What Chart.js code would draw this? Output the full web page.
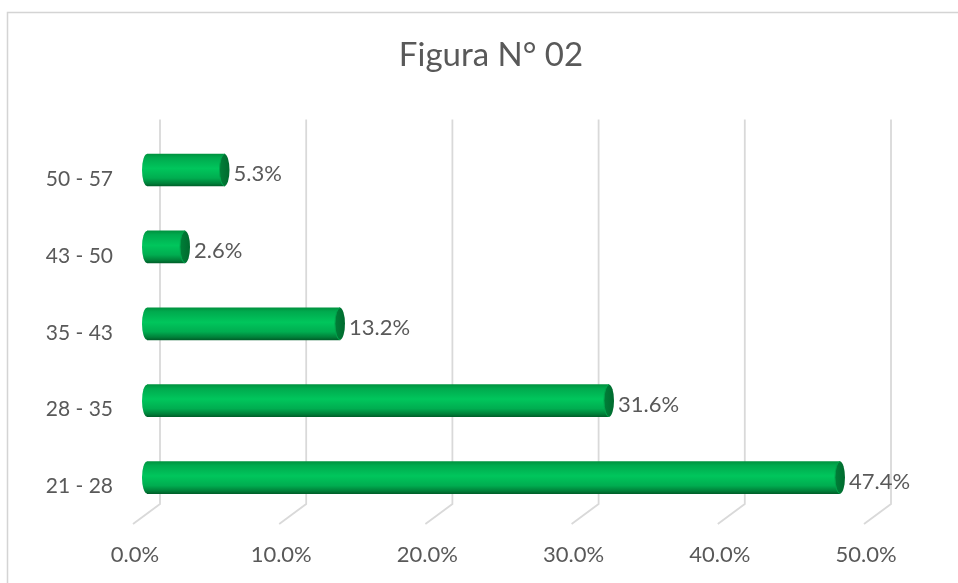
<!DOCTYPE html>
<html>
<head>
<meta charset="utf-8">
<script src="https://cdn.jsdelivr.net/npm/chart.js@4.4.1/dist/chart.umd.min.js"></script>
<style>
html,body{margin:0;padding:0;background:#ffffff;}
#wrap{position:absolute;left:0;top:0;width:958px;height:583px;}
</style>
</head>
<body>
<div id="wrap"><canvas id="c" width="958" height="583"></canvas></div>
<script>
const categories = ['50 - 57', '43 - 50', '35 - 43', '28 - 35', '21 - 28'];
const percentValues = [5.3, 2.6, 13.2, 31.6, 47.4];
const xTickMax = 50;
const xTickStep = 10;
const chartTitle = 'Figura N° 02';

const FONT = 'Lato, "Open Sans", sans-serif';
const BAR_H = 32;
const CAP_RX = 5;

function barGradient(ctx, yc) {
  if (!isFinite(yc)) return '#00b050';
  const g = ctx.createLinearGradient(0, yc - BAR_H / 2, 0, yc + BAR_H / 2);
  g.addColorStop(0, '#00933f');
  g.addColorStop(0.12, '#00aa4e');
  g.addColorStop(0.45, '#00c65c');
  g.addColorStop(0.75, '#00ad50');
  g.addColorStop(0.92, '#008039');
  g.addColorStop(1, '#00612a');
  return g;
}

const framePlugin = {
  id: 'frame',
  afterLayout(chart) {
    // let the y-axis labels extend into the left layout padding
    chart.scales.y.left = 0;
  },
  beforeDraw(chart) {
    const ctx = chart.ctx;
    ctx.save();
    ctx.fillStyle = '#ffffff';
    ctx.fillRect(0, 0, chart.width, chart.height);
    ctx.strokeStyle = '#d4d4d4';
    ctx.lineWidth = 1.5;
    ctx.beginPath();
    ctx.moveTo(7.5, chart.height);
    ctx.lineTo(7.5, 12.5);
    ctx.lineTo(chart.width, 12.5);
    ctx.stroke();
    ctx.restore();
  }
};

const grid3dPlugin = {
  id: 'grid3d',
  beforeDatasetsDraw(chart) {
    const ctx = chart.ctx;
    const xs = chart.scales.x;
    const area = chart.chartArea;
    ctx.save();
    ctx.strokeStyle = '#d9d9d9';
    ctx.lineWidth = 1.8;
    for (let v = 0; v <= xTickMax; v += xTickStep) {
      const px = xs.getPixelForValue(v);
      ctx.beginPath();
      ctx.moveTo(px + 13, area.top - 12);
      ctx.lineTo(px + 13, area.bottom - 12);
      ctx.lineTo(px - 14, area.bottom + 8);
      ctx.stroke();
    }
    ctx.restore();
  }
};

const cylinderPlugin = {
  id: 'cylinder',
  afterDatasetsDraw(chart) {
    const ctx = chart.ctx;
    const meta = chart.getDatasetMeta(0);
    ctx.save();
    meta.data.forEach((bar, i) => {
      const yc = bar.y;
      const h = bar.height;
      const base = bar.base;
      const end = bar.x;
      ctx.beginPath();
      ctx.ellipse(base, yc, CAP_RX, h / 2, 0, Math.PI / 2, Math.PI * 1.5);
      ctx.closePath();
      ctx.fillStyle = barGradient(ctx, yc);
      ctx.fill();
      ctx.beginPath();
      ctx.ellipse(end, yc, CAP_RX, h / 2, 0, 0, Math.PI * 2);
      const g = ctx.createLinearGradient(end - CAP_RX, 0, end + CAP_RX, 0);
      g.addColorStop(0, '#007f38');
      g.addColorStop(1, '#006a2e');
      ctx.fillStyle = g;
      ctx.fill();
      ctx.strokeStyle = '#00a54c';
      ctx.lineWidth = 1;
      ctx.beginPath();
      ctx.ellipse(end, yc, CAP_RX, h / 2, 0, Math.PI / 2, Math.PI * 1.5);
      ctx.stroke();
      ctx.fillStyle = '#595959';
      ctx.font = '22px ' + FONT;
      ctx.textAlign = 'left';
      ctx.textBaseline = 'middle';
      ctx.fillText(percentValues[i].toFixed(1) + '%', end + CAP_RX + 4, yc + 4);
    });
    ctx.restore();
  }
};

new Chart(document.getElementById('c'), {
  type: 'bar',
  data: {
    labels: categories,
    datasets: [{
      data: percentValues,
      barThickness: BAR_H,
      borderWidth: 0,
      backgroundColor: (context) => {
        const chart = context.chart;
        if (!chart.scales || !chart.scales.y || !chart.chartArea) return '#00b050';
        const yc = chart.scales.y.getPixelForValue(context.dataIndex);
        return barGradient(chart.ctx, yc);
      }
    }]
  },
  options: {
    indexAxis: 'y',
    responsive: false,
    animation: false,
    devicePixelRatio: 1,
    layout: { padding: { left: 104, right: 80, top: 0, bottom: 0 } },
    plugins: {
      legend: { display: false },
      tooltip: { enabled: false },
      title: {
        display: true,
        text: chartTitle,
        color: '#595959',
        font: { family: FONT, size: 33, weight: 'normal', lineHeight: 1.2 },
        padding: { top: 36, bottom: 56 }
      }
    },
    scales: {
      x: {
        min: 0,
        max: xTickMax,
        border: { display: false },
        grid: { display: false, drawTicks: false },
        ticks: {
          stepSize: xTickStep,
          color: '#595959',
          font: { family: FONT, size: 22 },
          padding: 26,
          labelOffset: -12,
          maxRotation: 0,
          callback: (v) => Number(v).toFixed(1) + '%'
        },
        afterFit(scale) { scale.height = 67; }
      },
      y: {
        border: { display: false },
        grid: { display: false, drawTicks: false },
        ticks: {
          color: '#595959',
          font: { family: FONT, size: 21 },
          padding: 34,
          labelOffset: 9
        },
        afterFit(scale) { scale.width = 43; }
      }
    }
  },
  plugins: [framePlugin, grid3dPlugin, cylinderPlugin]
});
</script>
</body>
</html>
